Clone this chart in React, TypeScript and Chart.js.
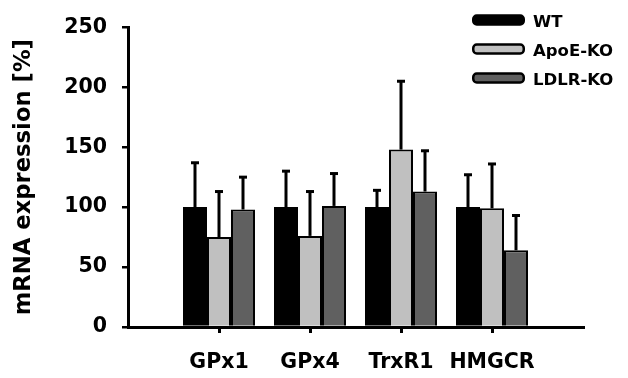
import React, { useEffect, useRef } from "react";
import { Chart, registerables } from "chart.js";

Chart.register(...registerables);

const categories = ["GPx1", "GPx4", "TrxR1", "HMGCR"];
const seriesNames = ["WT", "ApoE-KO", "LDLR-KO"];
const wtMean = [100, 100, 100, 100];
const apoeMean = [75, 76, 148, 99];
const ldlrMean = [98, 101, 113, 64];
const wtErr = [37, 30, 14, 27];
const apoeErr = [38, 37, 57, 37];
const ldlrErr = [27, 27, 34, 29];
const yTicks = [0, 50, 100, 150, 200, 250];
const seriesColors = ["#000000", "#c0c0c0", "#606060"];

const FONT = "'DejaVu Sans', sans-serif";

const errorBarPlugin = {
  id: "errorBars",
  afterDatasetsDraw(chart: any) {
    const ctx = chart.ctx;
    const yScale = chart.scales.y;
    chart.data.datasets.forEach((ds: any, i: number) => {
      const meta = chart.getDatasetMeta(i);
      meta.data.forEach((bar: any, j: number) => {
        const v = ds.data[j];
        const e = ds.errors[j];
        if (v == null || e == null) return;
        const yTop = yScale.getPixelForValue(v + e);
        ctx.save();
        ctx.strokeStyle = "#000";
        ctx.lineWidth = 3;
        ctx.lineCap = "butt";
        ctx.beginPath();
        ctx.moveTo(bar.x, bar.y);
        ctx.lineTo(bar.x, yTop);
        ctx.stroke();
        ctx.beginPath();
        ctx.moveTo(bar.x - 4, yTop);
        ctx.lineTo(bar.x + 4, yTop);
        ctx.stroke();
        ctx.restore();
      });
    });
  },
};

const legendPlugin = {
  id: "customLegend",
  afterDraw(chart: any) {
    const ctx = chart.ctx;
    chart.data.datasets.forEach((ds: any, i: number) => {
      const cy = 20 + i * 29;
      ctx.save();
      ctx.beginPath();
      (ctx as any).roundRect(473.25, cy - 4.5, 50.5, 9, 3.5);
      ctx.fillStyle = ds.backgroundColor;
      ctx.fill();
      ctx.lineWidth = 2.5;
      ctx.strokeStyle = "#000";
      ctx.stroke();
      ctx.fillStyle = "#000";
      ctx.font = `bold 16.5px ${FONT}`;
      ctx.textBaseline = "alphabetic";
      ctx.textAlign = "left";
      ctx.fillText(ds.label, 533, cy + 6.5);
      ctx.restore();
    });
  },
};

export default function App() {
  const ref = useRef<HTMLCanvasElement | null>(null);

  useEffect(() => {
    if (!ref.current) return;
    Chart.defaults.font.family = FONT;
    Chart.defaults.font.weight = "bold" as any;
    Chart.defaults.color = "#000";

    const means = [wtMean, apoeMean, ldlrMean];
    const errs = [wtErr, apoeErr, ldlrErr];

    const chart = new Chart(ref.current, {
      type: "bar",
      data: {
        labels: ["", ...categories, ""],
        datasets: seriesNames.map((name, i) => ({
          label: name,
          data: [null, ...means[i], null],
          errors: [null, ...errs[i], null],
          backgroundColor: seriesColors[i],
          borderColor: "#000",
          borderWidth: 2,
          borderSkipped: "start",
          barThickness: 24,
          inflateAmount: 0,
        })) as any,
      },
      options: {
        animation: false,
        responsive: false,
        layout: { padding: { top: 25, right: 45, left: 0, bottom: 0 } },
        plugins: {
          legend: { display: false },
          tooltip: { enabled: false },
        },
        scales: {
          x: {
            offset: false,
            z: 1,
            grid: {
              display: true,
              offset: false,
              drawOnChartArea: false,
              drawTicks: true,
              tickLength: 6,
              color: "#000",
              lineWidth: 3,
            },
            border: { display: true, color: "#000", width: 3 },
            ticks: {
              autoSkip: false,
              maxRotation: 0,
              minRotation: 0,
              padding: 17,
              color: "#000",
              font: { size: 20.5, weight: "bold", family: FONT },
            },
            afterBuildTicks: (s: any) => {
              s.ticks = s.ticks.filter(
                (t: any) => t.value >= 1 && t.value <= categories.length
              );
            },
            afterFit: (s: any) => {
              s.height = 51;
            },
          },
          y: {
            min: 0,
            max: 250,
            z: 1,
            grid: {
              display: true,
              drawOnChartArea: false,
              drawTicks: true,
              tickLength: 6,
              color: "#000",
              lineWidth: 2.5,
            },
            border: { display: true, color: "#000", width: 3 },
            ticks: {
              padding: 15,
              color: "#000",
              font: { size: 20.5, weight: "bold", family: FONT },
            },
            afterBuildTicks: (s: any) => {
              s.ticks = yTicks.map((v) => ({ value: v }));
            },
            afterFit: (s: any) => {
              s.width = 128;
            },
            title: {
              display: true,
              text: "mRNA expression [%]",
              color: "#000",
              font: { size: 22.7, weight: "bold", family: FONT },
              padding: { top: 10, bottom: 0 },
            },
          },
        },
      } as any,
      plugins: [errorBarPlugin, legendPlugin],
    });
    return () => chart.destroy();
  }, []);

  return (
    <div style={{ position: "absolute", left: 0, top: 0, width: 628, height: 378 }}>
      <canvas ref={ref} width={628} height={378} style={{ display: "block" }} />
    </div>
  );
}
